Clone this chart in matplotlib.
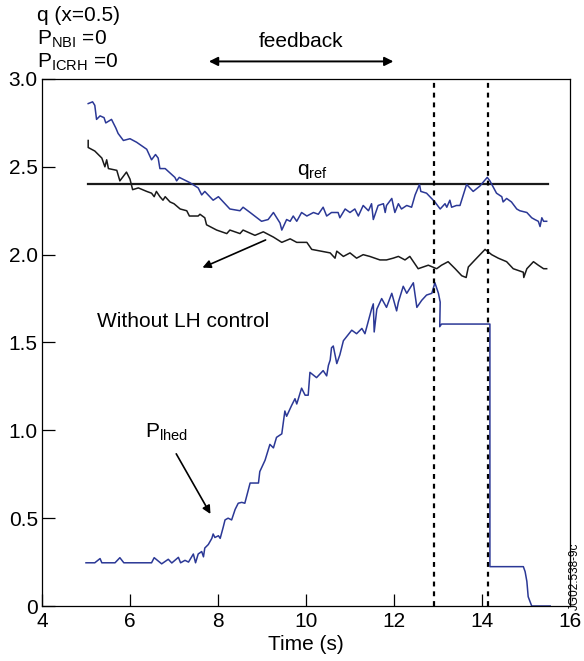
import matplotlib
matplotlib.use('Agg')
import matplotlib.pyplot as plt
import numpy as np

plt.rcParams['font.family'] = ['Liberation Sans', 'DejaVu Sans']
plt.rcParams['mathtext.fontset'] = 'custom'
plt.rcParams['mathtext.rm'] = 'Liberation Sans'
plt.rcParams['mathtext.it'] = 'Liberation Sans'

# q(x=0.5) with LH feedback control (blue)
q_fb_t = [5.05, 5.15, 5.20, 5.24, 5.32, 5.41, 5.45, 5.58, 5.68, 5.73, 5.85, 6.00, 6.15,
          6.38, 6.49, 6.58, 6.64, 6.68, 6.80, 7.02, 7.06, 7.12, 7.36, 7.55, 7.63, 7.70,
          7.89, 8.01, 8.27, 8.50, 8.57, 8.73, 8.99, 9.14, 9.26, 9.41, 9.45, 9.56, 9.64,
          9.71, 9.79, 9.90, 10.02, 10.17, 10.28, 10.39, 10.47, 10.58, 10.73, 10.77,
          10.89, 11.00, 11.11, 11.19, 11.30, 11.42, 11.49, 11.53, 11.64, 11.76, 11.80,
          11.83, 11.95, 12.02, 12.10, 12.17, 12.29, 12.40, 12.48, 12.58, 12.61, 12.74,
          12.93, 13.05, 13.16, 13.20, 13.27, 13.31, 13.42, 13.50, 13.65, 13.80, 13.95,
          14.12, 14.18, 14.33, 14.45, 14.48, 14.56, 14.67, 14.79, 14.86, 15.02, 15.13,
          15.20, 15.28, 15.32, 15.36, 15.40, 15.47]
q_fb = [2.86, 2.87, 2.85, 2.77, 2.79, 2.78, 2.75, 2.77, 2.72, 2.69, 2.65, 2.66, 2.64,
        2.60, 2.54, 2.57, 2.55, 2.49, 2.49, 2.44, 2.42, 2.44, 2.41, 2.38, 2.34, 2.36,
        2.31, 2.33, 2.26, 2.25, 2.27, 2.24, 2.19, 2.20, 2.24, 2.18, 2.14, 2.20, 2.19,
        2.22, 2.19, 2.24, 2.22, 2.24, 2.23, 2.27, 2.22, 2.24, 2.24, 2.21,
        2.26, 2.24, 2.26, 2.22, 2.28, 2.25, 2.29, 2.20, 2.28, 2.29, 2.24,
        2.28, 2.32, 2.24, 2.29, 2.26, 2.28, 2.27, 2.34, 2.40, 2.36, 2.35,
        2.30, 2.26, 2.29, 2.27, 2.31, 2.27, 2.28, 2.28, 2.40, 2.36, 2.39,
        2.44, 2.42, 2.35, 2.33, 2.30, 2.32, 2.30, 2.26, 2.25, 2.24, 2.21,
        2.20, 2.19, 2.16, 2.21, 2.19, 2.19]

# q(x=0.5) without LH control (black)
q_nofb_t = [5.05, 5.05, 5.20, 5.36, 5.43, 5.47, 5.51, 5.70, 5.77, 5.92, 6.00, 6.06, 6.19,
            6.38, 6.49, 6.55, 6.60, 6.68, 6.75, 6.80, 6.91, 7.00, 7.14, 7.29, 7.35, 7.55,
            7.59, 7.70, 7.74, 7.97, 8.20, 8.27, 8.50, 8.57, 8.84, 9.03, 9.26, 9.45, 9.64,
            9.79, 10.02, 10.13, 10.55, 10.66, 10.70, 10.85, 11.00, 11.15, 11.30, 11.45,
            11.68, 11.83, 11.98, 12.10, 12.25, 12.36, 12.55, 12.78, 12.97, 13.08, 13.23,
            13.39, 13.54, 13.64, 13.69, 13.84, 14.07, 14.22, 14.37, 14.56, 14.71, 14.94,
            14.95, 15.02, 15.17, 15.28, 15.40, 15.47]
q_nofb = [2.65, 2.61, 2.59, 2.55, 2.50, 2.54, 2.49, 2.48, 2.42, 2.47, 2.43, 2.37, 2.38,
          2.36, 2.35, 2.33, 2.36, 2.33, 2.31, 2.33, 2.30, 2.29, 2.26, 2.25, 2.22, 2.22,
          2.23, 2.21, 2.17, 2.14, 2.12, 2.14, 2.12, 2.14, 2.11, 2.13, 2.10, 2.07, 2.09,
          2.07, 2.07, 2.03, 2.01, 1.98, 2.02, 1.99, 2.01, 1.98, 2.00, 1.99,
          1.97, 1.97, 1.98, 1.99, 1.97, 1.99, 1.92, 1.94, 1.92, 1.94, 1.96,
          1.92, 1.88, 1.87, 1.93, 1.97, 2.03, 2.00, 1.98, 1.96, 1.92, 1.90,
          1.87, 1.92, 1.96, 1.94, 1.92, 1.92]

# LH power P_lhed (MW)
p_lh_t = [5.00, 5.20, 5.32, 5.36, 5.66, 5.77, 5.86, 6.49, 6.55, 6.72, 6.87, 6.95, 7.10,
          7.15, 7.25, 7.33, 7.44, 7.49, 7.55, 7.63, 7.67, 7.70, 7.78, 7.86, 7.89, 7.93,
          8.01, 8.05, 8.12, 8.16, 8.23, 8.31, 8.39, 8.46, 8.54, 8.61, 8.73, 8.92, 8.95,
          9.07, 9.18, 9.26, 9.33, 9.45, 9.52, 9.56, 9.67, 9.75, 9.79, 9.90, 9.98, 10.05,
          10.09, 10.24, 10.39, 10.47, 10.51, 10.55, 10.58, 10.62, 10.70, 10.77, 10.85,
          11.04, 11.15, 11.27, 11.34, 11.49, 11.53, 11.55, 11.61, 11.72, 11.83, 11.95,
          12.06, 12.10, 12.21, 12.29, 12.44, 12.52, 12.63, 12.74, 12.86, 12.93, 13.01,
          13.05, 13.04, 13.08, 14.18, 14.18, 14.94, 14.98, 15.02, 15.05, 15.13, 15.55]
p_lh = [0.246, 0.246, 0.27, 0.246, 0.246, 0.275, 0.246, 0.246, 0.275, 0.24, 0.266, 0.245,
        0.277, 0.246, 0.26, 0.25, 0.296, 0.246, 0.296, 0.31, 0.28, 0.33, 0.35, 0.385,
        0.41, 0.39, 0.40, 0.385, 0.45, 0.49, 0.50, 0.49, 0.55, 0.585, 0.59, 0.585, 0.70,
        0.70, 0.765, 0.83, 0.92, 0.90, 0.96, 0.98, 1.11, 1.08, 1.14, 1.18, 1.15, 1.24,
        1.20, 1.20, 1.33, 1.30, 1.34, 1.31, 1.37, 1.40, 1.47, 1.48, 1.38, 1.43, 1.51,
        1.57, 1.55, 1.58, 1.55, 1.69, 1.72, 1.56, 1.69, 1.75, 1.70, 1.78,
        1.68, 1.73, 1.82, 1.78, 1.84, 1.70, 1.74, 1.77, 1.78, 1.84, 1.78,
        1.73, 1.59, 1.605, 1.605, 0.224, 0.224, 0.196, 0.14, 0.053, 0.0, 0.0]

q_ref = 2.40
q_ref_span = [5.05, 15.5]
t_marks = [12.92, 14.14]
feedback_span = [7.73, 12.05]

x_ticks = [4, 6, 8, 10, 12, 14, 16]
y_ticks = [0, 0.5, 1.0, 1.5, 2.0, 2.5, 3.0]
y_ticklabels = ['0', '0.5', '1.0', '1.5', '2.0', '2.5', '3.0']

blue = '#2b3896'

fig = plt.figure(figsize=(5.84, 6.61), dpi=100)
ax = fig.add_axes([0.0719, 0.0832, 0.9041, 0.7973])

ax.plot(q_ref_span, [q_ref, q_ref], color='#1a1a1a', lw=1.6)
ax.plot(q_nofb_t, q_nofb, color='#1a1a1a', lw=1.1)
ax.plot(q_fb_t, q_fb, color=blue, lw=1.1)
ax.plot(p_lh_t, p_lh, color=blue, lw=1.1, clip_on=False)
for t in t_marks:
    ax.axvline(t, color='k', lw=1.6, linestyle=(0, (2.2, 2.2)))

ax.set_xlim(4, 16)
ax.set_ylim(0, 3)
ax.set_xticks(x_ticks)
ax.set_yticks(y_ticks)
ax.set_yticklabels(y_ticklabels)
ax.tick_params(axis='both', direction='in', length=9, width=0.9, labelsize=15, pad=4)
ax.tick_params(axis='y', pad=3)
for spine in ax.spines.values():
    spine.set_linewidth(0.9)
ax.set_xlabel('Time (s)', fontsize=15, labelpad=3)

# annotations
ax.text(10.15, 2.42, r'q$_{\rm ref}$', fontsize=15, ha='center', va='bottom')
ax.annotate('', xy=(7.59, 1.92), xytext=(9.14, 2.09),
            arrowprops=dict(arrowstyle='-|>', color='k', lw=1.2, mutation_scale=12))
ax.text(5.25, 1.62, 'Without LH control', fontsize=15, ha='left', va='center')
ax.text(6.35, 0.99, r'P$_{\rm lhed}$', fontsize=15, ha='left', va='center')
ax.annotate('', xy=(7.86, 0.51), xytext=(7.02, 0.88),
            arrowprops=dict(arrowstyle='-|>', color='k', lw=1.2, mutation_scale=12))
ax.annotate('', xy=(feedback_span[0], 3.10), xytext=(feedback_span[1], 3.10),
            arrowprops=dict(arrowstyle='<|-|>', color='k', lw=1.4, mutation_scale=13),
            annotation_clip=False)
ax.text(sum(feedback_span) / 2, 3.16, 'feedback', fontsize=15, ha='center', va='bottom')

fig.text(0.064, 0.977, 'q (x=0.5)', fontsize=15, ha='left', va='center')
fig.text(0.064, 0.940, r'P$_{\rm NBI}$ =0', fontsize=15, ha='left', va='center')
fig.text(0.064, 0.905, r'P$_{\rm ICRH}$ =0', fontsize=15, ha='left', va='center')
fig.text(0.984, 0.128, 'JG02.538-9c', fontsize=8.5, rotation=90, ha='center', va='center')

fig.savefig('out.png', dpi=100)
